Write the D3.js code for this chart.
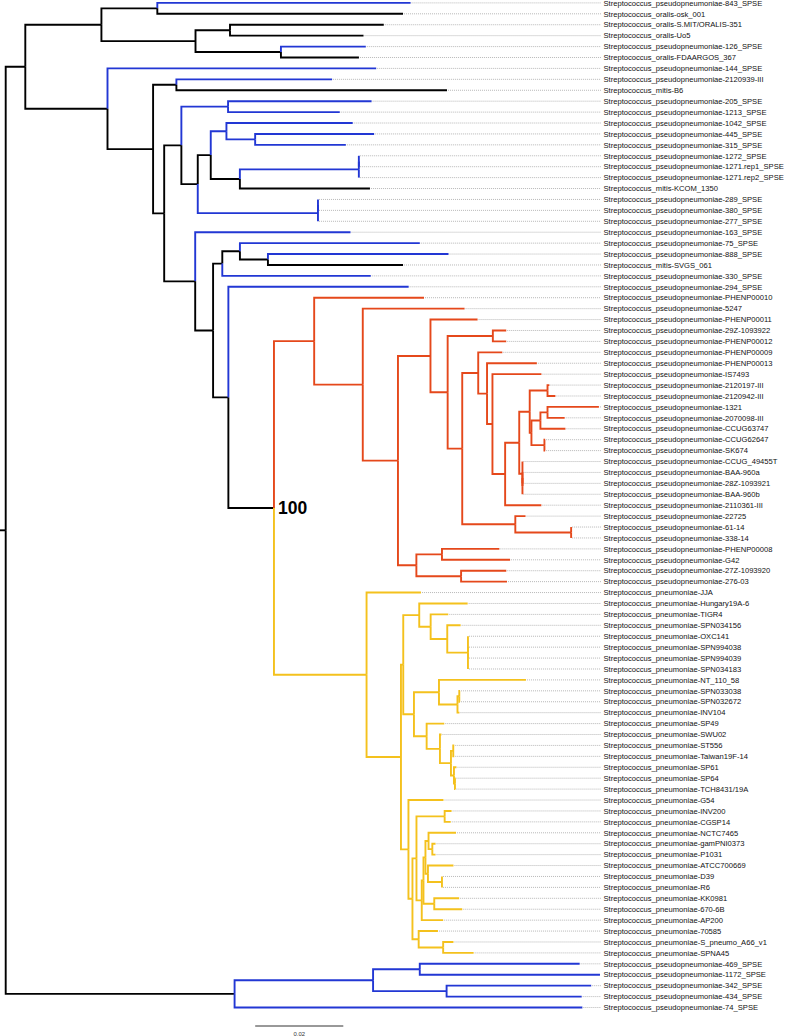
<!DOCTYPE html>
<html><head><meta charset="utf-8">
<script src="https://cdn.jsdelivr.net/npm/d3@7"></script>
<style>html,body{margin:0;padding:0;background:#fff;}svg{display:block;}</style>
</head><body>
<svg id="chart" width="787" height="1036"></svg>
<script>
// ---------- DATA ----------
const leafNames = [
"Streptococcus_pseudopneumoniae-843_SPSE","Streptococcus_oralis-osk_001","Streptococcus_oralis-S.MIT/ORALIS-351","Streptococcus_oralis-Uo5",
"Streptococcus_pseudopneumoniae-126_SPSE","Streptococcus_oralis-FDAARGOS_367","Streptococcus_pseudopneumoniae-144_SPSE","Streptococcus_pseudopneumoniae-2120939-III",
"Streptococcus_mitis-B6","Streptococcus_pseudopneumoniae-205_SPSE","Streptococcus_pseudopneumoniae-1213_SPSE","Streptococcus_pseudopneumoniae-1042_SPSE",
"Streptococcus_pseudopneumoniae-445_SPSE","Streptococcus_pseudopneumoniae-315_SPSE","Streptococcus_pseudopneumoniae-1272_SPSE","Streptococcus_pseudopneumoniae-1271.rep1_SPSE",
"Streptococcus_pseudopneumoniae-1271.rep2_SPSE","Streptococcus_mitis-KCOM_1350","Streptococcus_pseudopneumoniae-289_SPSE","Streptococcus_pseudopneumoniae-380_SPSE",
"Streptococcus_pseudopneumoniae-277_SPSE","Streptococcus_pseudopneumoniae-163_SPSE","Streptococcus_pseudopneumoniae-75_SPSE","Streptococcus_pseudopneumoniae-888_SPSE",
"Streptococcus_mitis-SVGS_061","Streptococcus_pseudopneumoniae-330_SPSE","Streptococcus_pseudopneumoniae-294_SPSE","Streptococcus_pseudopneumoniae-PHENP00010",
"Streptococcus_pseudopneumoniae-5247","Streptococcus_pseudopneumoniae-PHENP00011","Streptococcus_pseudopneumoniae-29Z-1093922","Streptococcus_pseudopneumoniae-PHENP00012",
"Streptococcus_pseudopneumoniae-PHENP00009","Streptococcus_pseudopneumoniae-PHENP00013","Streptococcus_pseudopneumoniae-IS7493","Streptococcus_pseudopneumoniae-2120197-III",
"Streptococcus_pseudopneumoniae-2120942-III","Streptococcus_pseudopneumoniae-1321","Streptococcus_pseudopneumoniae-2070098-III","Streptococcus_pseudopneumoniae-CCUG63747",
"Streptococcus_pseudopneumoniae-CCUG62647","Streptococcus_pseudopneumoniae-SK674","Streptococcus_pseudopneumoniae-CCUG_49455T","Streptococcus_pseudopneumoniae-BAA-960a",
"Streptococcus_pseudopneumoniae-28Z-1093921","Streptococcus_pseudopneumoniae-BAA-960b","Streptococcus_pseudopneumoniae-2110361-III","Streptococcus_pseudopneumoniae-22725",
"Streptococcus_pseudopneumoniae-61-14","Streptococcus_pseudopneumoniae-338-14","Streptococcus_pseudopneumoniae-PHENP00008","Streptococcus_pseudopneumoniae-G42",
"Streptococcus_pseudopneumoniae-27Z-1093920","Streptococcus_pseudopneumoniae-276-03","Streptococcus_pneumoniae-JJA","Streptococcus_pneumoniae-Hungary19A-6",
"Streptococcus_pneumoniae-TIGR4","Streptococcus_pneumoniae-SPN034156","Streptococcus_pneumoniae-OXC141","Streptococcus_pneumoniae-SPN994038",
"Streptococcus_pneumoniae-SPN994039","Streptococcus_pneumoniae-SPN034183","Streptococcus_pneumoniae-NT_110_58","Streptococcus_pneumoniae-SPN033038",
"Streptococcus_pneumoniae-SPN032672","Streptococcus_pneumoniae-INV104","Streptococcus_pneumoniae-SP49","Streptococcus_pneumoniae-SWU02",
"Streptococcus_pneumoniae-ST556","Streptococcus_pneumoniae-Taiwan19F-14","Streptococcus_pneumoniae-SP61","Streptococcus_pneumoniae-SP64",
"Streptococcus_pneumoniae-TCH8431/19A","Streptococcus_pneumoniae-G54","Streptococcus_pneumoniae-INV200","Streptococcus_pneumoniae-CGSP14",
"Streptococcus_pneumoniae-NCTC7465","Streptococcus_pneumoniae-gamPNI0373","Streptococcus_pneumoniae-P1031","Streptococcus_pneumoniae-ATCC700669",
"Streptococcus_pneumoniae-D39","Streptococcus_pneumoniae-R6","Streptococcus_pneumoniae-KK0981","Streptococcus_pneumoniae-670-6B",
"Streptococcus_pneumoniae-AP200","Streptococcus_pneumoniae-70585","Streptococcus_pneumoniae-S_pneumo_A66_v1","Streptococcus_pneumoniae-SPNA45",
"Streptococcus_pseudopneumoniae-469_SPSE","Streptococcus_pseudopneumoniae-1172_SPSE","Streptococcus_pseudopneumoniae-342_SPSE","Streptococcus_pseudopneumoniae-434_SPSE",
"Streptococcus_pseudopneumoniae-74_SPSE"
];

// Newick subtrees (leaf = index into leafNames, :branch length, [colour code])
const redP   = "(29:0.01069,((30:0.00304,31:0.00304):0.01026,((32:0.00547,(33:0.01131,(34:0.01112,(((" +
               "(35:0.00043,36:0.00179):0.00404,(((37:0.01167,38:0.00390):0.00161,39:0.00568):0.00204,(40:0.00016,41:0.00016):0.00295):0.00039):0.00238," +
               "(42:0,((43:0,44:0):0,45:0):0):0.00073):0.00320,46:0.00822):0.00288):0.00123):0.00200):0.00363," +
               "(47:0.00232,(48:0,49:0):0.01267):0.01205):0.00331):0.00390):0.00738";
const redQ   = "((50:0.01303,51:0.01546):0.00581,(52:0.01026,53:0.01042):0.01015):0.00418";
const redClade = `(27:0.02493,(28:0.02311,(${redP},${redQ}):0.00799):0.01103):0.00913[r]`;

const yelA   = "((55:0.01099,(56:0.00400,(57:0.00304,(58:0,59:0,60:0,61:0):0.00470):0.00377):0.00259):0.00363," +
               "((62:0.01975,((63:0.00016,64:0.00016):0.00041,65:0.00045):0.00420):0.00568,(66:0.00400,(67:0.00034,((68:0.00023,69:0.00023):0.00052," +
               "(70:0.00057,(71:0.00011,72:0.00011):0.00023):0.00068):0.00250):0.00302):0.00288):0.00243):0.00052";
const yelB   = "(73:0.00795,(((74:0.00157,75:0.00138):0.00640,((((76:0.00624,(77:0.00073,78:0.00073):0.00086):0.00070," +
               "(79:0.00579,(80:0,81:0):0.00318):0.00057):0.00045,(82:0.00565,83:0.00636):0.00245):0.00039,84:0.00486):0.00120):0.00091," +
               "(85:0.00438,(86:0.00234,87:0.00692):0.00556):0.00141):0.00091):0.00170";
const yellowClade = `(54:0.01235,(${yelA},${yelB}):0.00781):0.02102[y]`;

const upperA = "((0:0.05750[b],1:0.05578):0.01269,((2:0.03491,3:0.03031):0.00783,(4:0.01927[b],5:0.01771):0.01939):0.02136):0.01728";
const upperB = "(6:0.06100[b],((7:0.03535[b],8:0.06143):0.00529,(((9:0.03258,10:0.02536):0.01060[b],(((11:0.02867,(12:0.02701,13:0.02059):0.00652):0.00356[b]," +
               "(((14:0,15:0):0,16:0):0.02701[b],17:0.02953):0.00661):0.00295,((18:0,19:0):0,20:0):0.02729[b]):0.00372):0.00390," +
               `(21:0.03526[b],(((22:0.04084[b],(23:0.04100[b],24:0.03067):0.00636):0.00400,25:0.03371[b]):0.00209,` +
               `(26:0.04093[b],(${redClade},${yellowClade})100:0.01035):0.00347):0.00406):0.00704):0.00252):0.01035):0.01866`;
const lowerClade = "(((88:0.03630,89:0.04091):0.01060,(90:0.03283,91:0.03067):0.01669):0.03144[b],92:0.07895[b]):0.05196";

const newick = `((${upperA},${upperB}):0.00445,${lowerClade});`;

const colourCodes = { k: "#000000", b: "#2237d4", r: "#e5481b", y: "#f4c11d" };
const scaleBarValue = 0.02;
const scaleBarLabel = "0.02";

// ---------- PARSE ----------
function parseNewick(str) {
  const s = str.replace(/\s+/g, "");
  let i = 0;
  function node() {
    const n = { children: [] };
    if (s[i] === "(") {
      i++;
      n.children.push(node());
      while (s[i] === ",") { i++; n.children.push(node()); }
      i++;
    }
    let name = "";
    while (i < s.length && !",():;[".includes(s[i])) name += s[i++];
    n.name = name;
    n.length = 0;
    if (s[i] === ":") {
      i++; let num = "";
      while (i < s.length && !",();[".includes(s[i])) num += s[i++];
      n.length = +num;
    }
    if (s[i] === "[") {
      i++; let c = "";
      while (s[i] !== "]") c += s[i++];
      i++; n.color = c;
    }
    return n;
  }
  return node();
}

const root = d3.hierarchy(parseNewick(newick), d => d.children.length ? d.children : null);
root.eachBefore(d => {
  d.dist = d.parent ? d.parent.dist + d.data.length : 0;
  d.col = d.data.color || (d.parent ? d.parent.col : "k");
});
const leaves = root.leaves();

const yScale = d3.scaleLinear().domain([0, leaves.length - 1]).range([2.9, 1007.5]);
const xScale = d3.scaleLinear().domain([0, scaleBarValue]).range([5.7, 5.7 + 88.1]);

leaves.forEach((d, i) => { d.y = yScale(i); d.idx = +d.data.name; });
root.eachAfter(d => {
  if (d.children) d.y = (d.children[0].y + d.children[d.children.length - 1].y) / 2;
  d.x = xScale(d.dist);
});

// ---------- DRAW ----------
const svg = d3.select("#chart");
svg.append("rect").attr("width", 787).attr("height", 1036).attr("fill", "#fff");

const labelX = 603.5;
// dotted leaders
svg.append("g").selectAll("line").data(leaves).join("line")
  .attr("x1", d => d.x + 1).attr("x2", labelX - 2.5)
  .attr("y1", d => d.y).attr("y2", d => d.y)
  .attr("stroke", "#9a9a9a").attr("stroke-width", 0.7).attr("stroke-dasharray", "1,1");

// branches (elbows)
const gB = svg.append("g").attr("fill", "none").attr("stroke-width", 1.9).attr("stroke-linejoin", "miter");
gB.append("path").attr("d", `M0,${root.y}H${root.x}`).attr("stroke", colourCodes.k);
gB.selectAll("path.br").data(root.descendants().filter(d => d.parent)).join("path")
  .attr("class", "br")
  .attr("d", d => `M${d.parent.x},${d.parent.y}V${d.y}H${d.x}`)
  .attr("stroke", d => colourCodes[d.col]);

// leaf labels
svg.append("g").selectAll("text").data(leaves).join("text")
  .attr("x", labelX).attr("y", d => d.y).attr("dy", "0.36em")
  .attr("font-family", "'Liberation Sans', Arial, sans-serif").attr("font-size", 7.6)
  .attr("fill", "#111")
  .text(d => leafNames[d.idx]);

// support label
root.descendants().filter(d => d.children && d.data.name).forEach(d => {
  svg.append("text").attr("x", d.x + 4).attr("y", d.y + 5.6)
    .attr("font-family", "'Liberation Sans', Arial, sans-serif").attr("font-size", 17.5)
    .attr("font-weight", "bold").attr("fill", "#000").text(d.data.name);
});

// scale bar
const sbX0 = 255.2, sbY = 1026;
svg.append("line").attr("x1", sbX0).attr("x2", sbX0 + xScale(scaleBarValue) - xScale(0))
  .attr("y1", sbY).attr("y2", sbY).attr("stroke", "#333").attr("stroke-width", 1);
svg.append("text").attr("x", sbX0 + (xScale(scaleBarValue) - xScale(0)) / 2).attr("y", 1035.5)
  .attr("text-anchor", "middle").attr("font-family", "'Liberation Sans', Arial, sans-serif")
  .attr("font-size", 5.9).attr("fill", "#333").text(scaleBarLabel);
</script>
</body></html>
